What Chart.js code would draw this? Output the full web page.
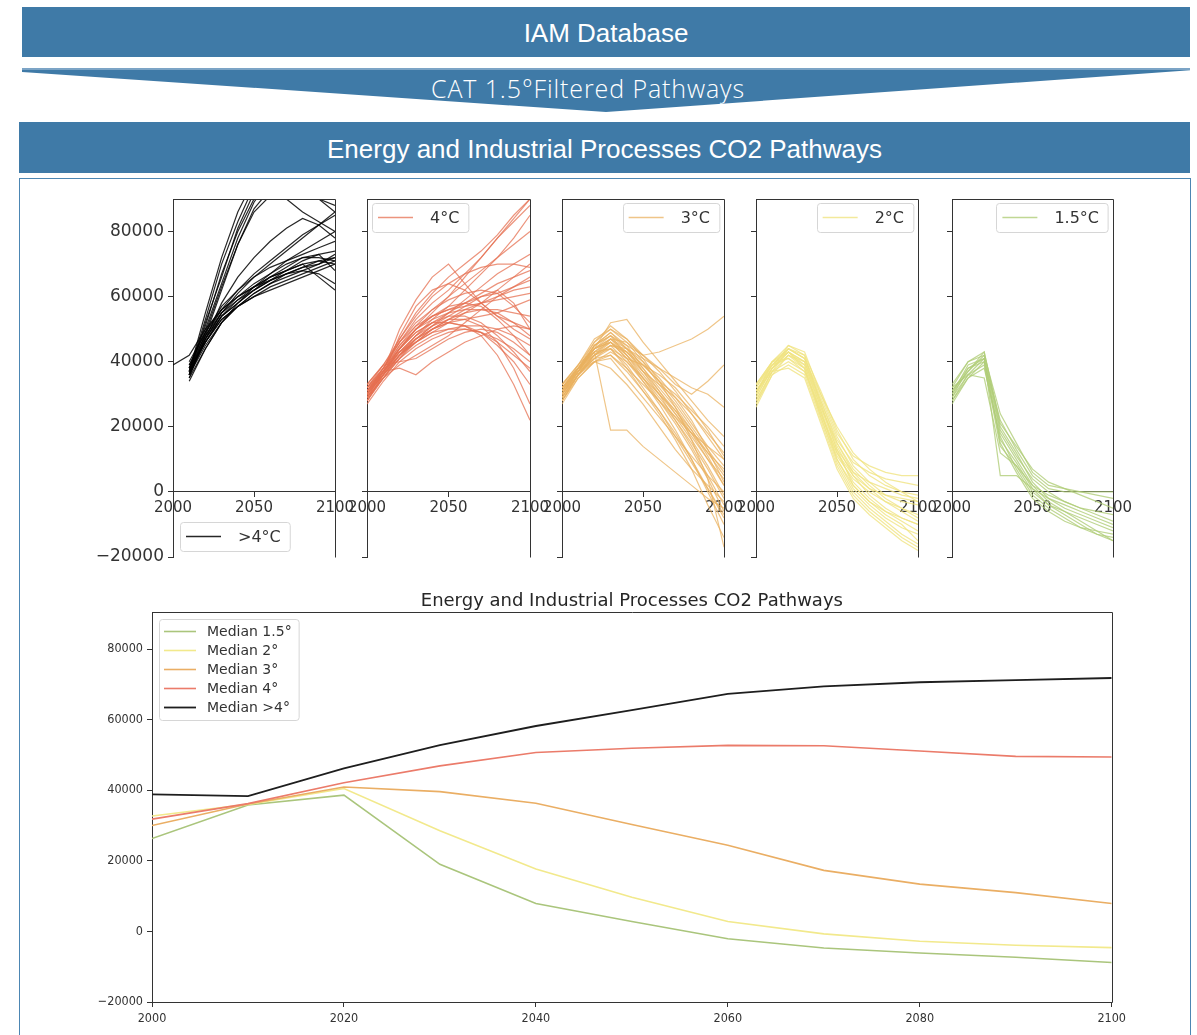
<!DOCTYPE html>
<html>
<head>
<meta charset="utf-8">
<script src="https://cdn.jsdelivr.net/npm/chart.js@4.4.1/dist/chart.umd.min.js"></script>
<style>
  body { margin: 0; width: 1197px; height: 1035px; overflow: hidden; background: #fff; position: relative; font-family: "Liberation Sans", Arial, sans-serif; }
  .bar { position: absolute; background: #3f7aa7; color: #fff; text-align: center; }
  #bar1 { left: 22px; top: 7px; width: 1168px; height: 50px; line-height: 52px; font-size: 26px; }
  #funnel { left: 22px; top: 68px; width: 1132px; padding-right: 36px; height: 44px; clip-path: polygon(0 0, 100% 0, 100% 5%, 50% 100%, 0 9%);
            background: linear-gradient(#7ca4c6 0, #7ca4c6 2px, #3f7aa7 2px); font-family: "Open Sans", sans-serif; font-weight: 300;
            font-size: 25px; letter-spacing: 0.9px; line-height: 40px; }
  #bar3 { left: 19px; top: 122px; width: 1171px; height: 51px; line-height: 54px; font-size: 26px; }
  #box { position: absolute; left: 19px; top: 178px; width: 1170px; height: 880px; border: 1px solid #4c86b3; }
  .wrap { position: absolute; }
</style>
</head>
<body>
<div class="bar" id="bar1">IAM Database</div>
<div class="bar" id="funnel">CAT 1.5°Filtered Pathways</div>
<div class="bar" id="bar3">Energy and Industrial Processes CO2 Pathways</div>
<div id="box"></div>

<div class="wrap" style="left:93px;top:190px"><canvas id="p1" width="267" height="390"></canvas></div>
<div class="wrap" style="left:287px;top:190px"><canvas id="p2" width="268" height="390"></canvas></div>
<div class="wrap" style="left:482px;top:190px"><canvas id="p3" width="267" height="390"></canvas></div>
<div class="wrap" style="left:676px;top:190px"><canvas id="p4" width="267" height="390"></canvas></div>
<div class="wrap" style="left:872px;top:190px"><canvas id="p5" width="266" height="390"></canvas></div>
<div class="wrap" style="left:90px;top:585px"><canvas id="median" width="1040" height="450"></canvas></div>

<script>
// years of each pathway point
const years = [2000, 2010, 2020, 2030, 2040, 2050, 2060, 2070, 2080, 2090, 2100];

// >4°C pathways
const pathsAbove4 = [
  [39000, 42000, 50000, 56000, 60000, 63000, 66000, 68000, 70000, 71000, 72000],
  [null, 36000, 52000, 66000, 81000, 92000, 100000, 105000, 110000, 115000, 120000],
  [null, 37000, 53000, 70000, 83000, 94000, 102000, 108000, 112000, 116000, 120000],
  [null, 38000, 50000, 64000, 78000, 89000, 96000, 101000, 106000, 110000, 114000],
  [null, 37000, 55000, 72000, 86000, 96000, 104000, 110000, 115000, 120000, 125000],
  [null, 38000, 51000, 67000, 80000, 90000, 97000, 95000, 92000, 90000, 88000],
  [null, 36000, 49000, 63000, 76000, 86000, 91000, 93000, 92000, 90000, 86000],
  [null, 35000, 48000, 62000, 76000, 87000, 93000, 90000, 86000, 83000, 80000],
  [null, 36000, 47000, 58000, 66000, 72000, 77000, 81000, 84000, 82000, 78000],
  [null, 37000, 46000, 53000, 57000, 60000, 63000, 65000, 67000, 69000, 71000],
  [null, 38000, 47000, 54000, 58000, 62000, 65000, 67000, 69000, 70000, 72000],
  [null, 36000, 45000, 52000, 57000, 61000, 64000, 66000, 68000, 70000, 73000],
  [null, 39000, 48000, 55000, 60000, 64000, 67000, 70000, 72000, 72000, 71000],
  [null, 35000, 44000, 52000, 58000, 63000, 67000, 71000, 74000, 77000, 80000],
  [null, 37000, 47000, 55000, 61000, 66000, 70000, 74000, 78000, 82000, 86000],
  [null, 38000, 48000, 56000, 62000, 67000, 71000, 75000, 79000, 82000, 85000],
  [null, 36000, 46000, 54000, 59000, 63000, 66000, 68000, 70000, 66000, 62000],
  [null, 40000, 49000, 56000, 60000, 63000, 65000, 67000, 68000, 67000, 64000],
  [null, 37000, 46000, 54000, 58000, 62000, 65000, 68000, 71000, 73000, 74000],
  [null, 38000, 46000, 53000, 57000, 60000, 62000, 64000, 66000, 68000, 70000],
  [null, 34000, 44000, 52000, 57000, 61000, 64000, 67000, 69000, 71000, 70000],
  [null, 36000, 47000, 55000, 59000, 62000, 66000, 69000, 72000, 73000, 68000],
  [null, 39000, 49000, 57000, 62000, 66000, 69000, 71000, 73000, 75000, 77000]
];

// 4°C pathways
const paths4 = [
  [30000, 37000, 44000, 50000, 55000, 60000, 66000, 72000, 78000, 84000, 90000],
  [32000, 38000, 46000, 53000, 58000, 62000, 67000, 72000, 78000, 83000, 88000],
  [29000, 36000, 42000, 48000, 53000, 57000, 62000, 67000, 72000, 78000, 85000],
  [31000, 38000, 45000, 51000, 56000, 60000, 64000, 68000, 72000, 76000, 80000],
  [28000, 35000, 41000, 47000, 51000, 55000, 59000, 63000, 67000, 70000, 73000],
  [33000, 39000, 47000, 54000, 60000, 64000, 67000, 69000, 70000, 70000, 69000],
  [30000, 37000, 43000, 48000, 52000, 55000, 58000, 61000, 64000, 66000, 68000],
  [31000, 36000, 42000, 46000, 50000, 53000, 56000, 58000, 60000, 62000, 63000],
  [29000, 37000, 44000, 50000, 54000, 56000, 57000, 58000, 59000, 60000, 61000],
  [31000, 37000, 50000, 59000, 66000, 70000, 64000, 58000, 54000, 52000, 50000],
  [30000, 36000, 48000, 57000, 62000, 64000, 62000, 58000, 54000, 50000, 47000],
  [28000, 35000, 42000, 47000, 50000, 52000, 51000, 48000, 42000, 33000, 22000],
  [30000, 36000, 43000, 48000, 51000, 53000, 53000, 51000, 46000, 38000, 27000],
  [27000, 34000, 40000, 44000, 47000, 49000, 50000, 49000, 45000, 40000, 33000],
  [32000, 38000, 44000, 49000, 52000, 54000, 54000, 52000, 48000, 43000, 37000],
  [29000, 37000, 43000, 46000, 49000, 50000, 50000, 49000, 47000, 44000, 40000],
  [31000, 37000, 44000, 50000, 54000, 57000, 58000, 57000, 53000, 48000, 42000],
  [30000, 36000, 41000, 45000, 48000, 50000, 51000, 51000, 50000, 48000, 45000],
  [30000, 37000, 38000, 36000, 40000, 43000, 46000, 48000, 50000, 51000, 50000],
  [33000, 39000, 40000, 41000, 44000, 47000, 49000, 50000, 49000, 46000, 42000],
  [28000, 36000, 42000, 47000, 51000, 54000, 57000, 60000, 62000, 58000, 50000],
  [31000, 38000, 46000, 52000, 56000, 59000, 61000, 62000, 61000, 57000, 52000],
  [29000, 35000, 41000, 46000, 50000, 53000, 55000, 56000, 56000, 55000, 54000],
  [32000, 37000, 42000, 46000, 49000, 52000, 55000, 58000, 62000, 66000, 70000],
  [30000, 38000, 47000, 55000, 61000, 66000, 70000, 74000, 79000, 85000, 90000],
  [31000, 37000, 45000, 50000, 53000, 55000, 56000, 56000, 55000, 52000, 48000],
  [28000, 36000, 44000, 49000, 52000, 52000, 51000, 49000, 46000, 42000, 38000],
  [32000, 39000, 46000, 51000, 54000, 56000, 58000, 60000, 61000, 63000, 65000],
  [30000, 37000, 43000, 47000, 50000, 52000, 53000, 54000, 55000, 57000, 59000],
  [29000, 35000, 39000, 42000, 45000, 48000, 52000, 56000, 60000, 63000, 66000]
];

// 3°C pathways
const paths3 = [
  [30000, 37000, 44000, 48000, 45000, 42000, 43000, 45000, 47000, 50000, 54000],
  [32000, 38000, 43000, 47000, 46000, 42000, 38000, 33000, 30000, 34000, 39000],
  [28000, 36000, 41000, 45000, 44000, 41000, 38000, 35000, 32000, 30000, 26000],
  [31000, 37000, 44000, 52000, 53000, 46000, 40000, 34000, 28000, 22000, 17000],
  [29000, 36000, 42000, 47000, 44000, 39000, 34000, 30000, 25000, 20000, 14000],
  [33000, 39000, 46000, 50000, 47000, 42000, 37000, 31000, 24000, 17000, 10000],
  [30000, 38000, 45000, 49000, 45000, 38000, 31000, 24000, 17000, 10000, 4000],
  [27000, 35000, 40000, 43000, 40000, 35000, 30000, 25000, 19000, 12000, 5000],
  [32000, 37000, 43000, 46000, 42000, 36000, 30000, 24000, 18000, 12000, 7000],
  [31000, 38000, 44000, 47000, 43000, 37000, 31000, 25000, 18000, 10000, 2000],
  [29000, 36000, 42000, 45000, 40000, 34000, 28000, 22000, 15000, 7000, -2000],
  [30000, 37000, 45000, 48000, 42000, 35000, 28000, 21000, 13000, 4000, -6000],
  [33000, 38000, 44000, 46000, 41000, 34000, 27000, 19000, 10000, 0, -10000],
  [28000, 36000, 43000, 44000, 38000, 31000, 24000, 16000, 7000, -4000, -14000],
  [31000, 37000, 41000, 42000, 37000, 31000, 25000, 18000, 10000, 1000, -8000],
  [30000, 38000, 43000, 19000, 19000, 14000, 10000, 6000, 2000, -2000, -5000],
  [32000, 38000, 45000, 48000, 44000, 40000, 35000, 29000, 22000, 13000, 3000],
  [29000, 36000, 41000, 44000, 39000, 32000, 25000, 17000, 9000, 1000, -7000],
  [30000, 37000, 42000, 46000, 43000, 38000, 32000, 26000, 19000, 11000, 2000],
  [31000, 38000, 46000, 51000, 47000, 41000, 34000, 26000, 16000, 4000, -17000],
  [28000, 35000, 40000, 41000, 35000, 29000, 23000, 17000, 11000, 5000, 0],
  [33000, 39000, 44000, 47000, 42000, 37000, 33000, 29000, 24000, 18000, 12000],
  [30000, 36000, 42000, 44000, 41000, 39000, 36000, 32000, 26000, 19000, 11000],
  [32000, 37000, 40000, 38000, 33000, 27000, 20000, 13000, 7000, 2000, -3000],
  [31000, 39000, 47000, 50000, 46000, 40000, 33000, 27000, 20000, 13000, 6000],
  [29000, 37000, 44000, 46000, 41000, 35000, 29000, 23000, 16000, 8000, -1000],
  [32000, 38000, 42000, 45000, 43000, 39000, 34000, 28000, 21000, 14000, 8000],
  [30000, 37000, 45000, 49000, 44000, 37000, 30000, 22000, 14000, 5000, -4000],
  [28000, 36000, 40000, 42000, 38000, 33000, 28000, 23000, 18000, 14000, 10000]
];

// 2°C pathways
const paths2 = [
  [27000, 37000, 44000, 41000, 28000, 16000, 9000, 6000, 4000, 3000, 2000],
  [30000, 38000, 45000, 43000, 30000, 18000, 11000, 8000, 6000, 5000, 5000],
  [33000, 40000, 43000, 40000, 26000, 13000, 6000, 3000, 1000, -1000, -2000],
  [28000, 37000, 42000, 38000, 24000, 11000, 4000, 0, -3000, -5000, -7000],
  [31000, 39000, 44000, 42000, 27000, 14000, 5000, -1000, -5000, -8000, -10000],
  [29000, 38000, 43000, 39000, 25000, 10000, 1000, -4000, -8000, -11000, -13000],
  [32000, 40000, 41000, 37000, 23000, 9000, 0, -5000, -9000, -13000, -16000],
  [26000, 36000, 39000, 36000, 22000, 8000, -1000, -6000, -10000, -14000, -17000],
  [30000, 39000, 44000, 41000, 29000, 17000, 8000, 3000, -1000, -3000, -4000],
  [31000, 38000, 42000, 39000, 26000, 15000, 7000, 2000, -2000, -5000, -8000],
  [33000, 40000, 45000, 42000, 31000, 19000, 10000, 5000, 2000, 0, -1000],
  [28000, 37000, 40000, 37000, 25000, 12000, 3000, -2000, -6000, -9000, -12000],
  [29000, 38000, 43000, 40000, 28000, 15000, 6000, 1000, -3000, -6000, -9000],
  [32000, 39000, 41000, 38000, 24000, 12000, 5000, 1000, -1000, -2000, -3000],
  [27000, 36000, 42000, 40000, 27000, 13000, 2000, -3000, -7000, -10000, -15000],
  [30000, 40000, 44000, 41000, 30000, 20000, 12000, 7000, 3000, 0, -3000],
  [31000, 37000, 38000, 35000, 21000, 7000, -2000, -7000, -11000, -15000, -18000],
  [33000, 39000, 43000, 38000, 23000, 10000, 2000, -3000, -6000, -8000, -10000]
];

// 1.5°C pathways
const paths15 = [
  [27000, 35000, 40000, 22000, 13000, 5000, 1000, 0, 0, 0, 0],
  [30000, 37000, 42000, 24000, 15000, 6000, 2000, 1000, 0, -1000, -2000],
  [32000, 40000, 43000, 20000, 12000, 3000, -2000, -5000, -7000, -9000, -11000],
  [28000, 36000, 41000, 18000, 10000, 2000, -3000, -6000, -9000, -12000, -15000],
  [31000, 38000, 40000, 16000, 9000, 1000, -4000, -7000, -10000, -13000, -14000],
  [29000, 36000, 39000, 14000, 8000, 0, -4000, -6000, -8000, -10000, -12000],
  [30000, 39000, 41000, 5000, 5000, 1000, -2000, -4000, -6000, -8000, -10000],
  [33000, 40000, 42000, 19000, 11000, 4000, 0, -3000, -5000, -7000, -9000],
  [28000, 35000, 38000, 17000, 7000, -1000, -5000, -8000, -11000, -13000, -15000],
  [31000, 37000, 43000, 21000, 14000, 7000, 3000, 1000, -1000, -3000, -5000],
  [29000, 38000, 41000, 15000, 6000, -2000, -6000, -9000, -11000, -12000, -13000],
  [32000, 36000, 35000, 12000, 8000, 2000, -1000, -3000, -5000, -6000, -7000]
];

// medians
const median15 = [26300, 35800, 38600, 19000, 7900, 2800, -2100, -4700, -6100, -7300, -8800];
const median2 = [32700, 36000, 40500, 28500, 17700, 9700, 2800, -700, -2800, -3900, -4600];
const median3 = [30000, 36100, 40900, 39600, 36300, 30300, 24400, 17300, 13400, 11000, 7900];
const median4 = [31800, 36200, 42100, 46900, 50700, 51900, 52700, 52600, 51100, 49600, 49400];
const medianAbove4 = [38800, 38350, 46200, 52800, 58200, 62700, 67300, 69400, 70600, 71200, 71800];

const yTicksPanel = [-20000, 0, 20000, 40000, 60000, 80000];
const xTicksPanel = [2000, 2050, 2100];

const axisColor = '#333';

function toPoints(vals) {
  return years.map((y, i) => ({ x: y, y: vals[i] }));
}

// tick text with a real minus sign, as matplotlib prints it
function tickText(v) {
  return String(v).replace('-', '\u2212');
}

// use the condensed DejaVu face for the bottom ticks if it is installed
function hasFont(name) {
  const c = document.createElement('canvas').getContext('2d');
  c.font = '20px monospace';
  const base = c.measureText('80000 mmm').width;
  c.font = '20px "' + name + '", monospace';
  return c.measureText('80000 mmm').width !== base;
}
const condensed = hasFont('DejaVu Sans Condensed');

// top and right spines (and bottom one for the median chart)
const frame = {
  id: 'frame',
  afterDraw(chart, args, opts) {
    const { ctx, chartArea: a } = chart;
    ctx.save();
    ctx.strokeStyle = axisColor;
    ctx.lineWidth = 1;
    ctx.beginPath();
    ctx.moveTo(Math.round(a.left) + 0.5, Math.round(a.top) + 0.5);
    ctx.lineTo(Math.round(a.right) + 0.5, Math.round(a.top) + 0.5);
    ctx.lineTo(Math.round(a.right) + 0.5, Math.round(a.bottom) + 0.5);
    if (opts.full) ctx.lineTo(Math.round(a.left) + 0.5, Math.round(a.bottom) + 0.5);
    ctx.stroke();
    if (opts.title) {
      ctx.fillStyle = '#262626';
      ctx.font = '18px "DejaVu Sans"';
      ctx.textAlign = 'center';
      ctx.textBaseline = 'middle';
      ctx.fillText(opts.title, (a.left + a.right) / 2, a.top - 11);
    }
    ctx.restore();
  }
};

// matplotlib style legend box
const boxLegend = {
  id: 'boxLegend',
  afterDraw(chart, args, opts) {
    if (!opts.items) return;
    const { ctx, chartArea: a } = chart;
    ctx.save();
    ctx.font = opts.size + 'px "DejaVu Sans"';
    let tw = 0;
    opts.items.forEach(it => { tw = Math.max(tw, ctx.measureText(it.text).width); });
    const w = opts.textX + tw + opts.padR;
    const h = opts.rowH * opts.items.length + opts.padV * 2;
    let x, y;
    if (opts.corner === 'tr') { x = a.right - opts.dx - w; y = a.top + opts.dy; }
    else if (opts.corner === 'bl') { x = a.left + opts.dx; y = a.bottom - opts.dy - h; }
    else { x = a.left + opts.dx; y = a.top + opts.dy; }
    ctx.beginPath();
    ctx.roundRect(Math.round(x) + 0.5, Math.round(y) + 0.5, w, h, 3);
    ctx.fillStyle = 'rgba(255,255,255,0.8)';
    ctx.fill();
    ctx.strokeStyle = '#d6d6d6';
    ctx.lineWidth = 1;
    ctx.stroke();
    opts.items.forEach((it, i) => {
      const cy = y + opts.padV + opts.rowH * (i + 0.5);
      ctx.strokeStyle = it.color;
      ctx.lineWidth = it.width || 1.5;
      ctx.beginPath();
      ctx.moveTo(x + opts.lineX0, cy);
      ctx.lineTo(x + opts.lineX1, cy);
      ctx.stroke();
      ctx.fillStyle = '#333';
      ctx.textBaseline = 'middle';
      ctx.fillText(it.text, x + opts.textX, cy + 1);
    });
    ctx.restore();
  }
};

function panel(id, paths, color, label, corner, showLabels) {
  const datasets = paths.map(p => ({
    data: toPoints(p),
    borderColor: color,
    borderWidth: 1.2,
    pointRadius: 0,
    tension: 0,
    fill: false
  }));
  new Chart(document.getElementById(id), {
    type: 'line',
    data: { datasets: datasets },
    plugins: [frame, boxLegend],
    options: {
      responsive: false,
      animation: false,
      events: [],
      layout: { padding: { left: 0, top: 9, right: 25, bottom: 23 } },
      plugins: {
        legend: { display: false },
        tooltip: { enabled: false },
        frame: { full: false },
        boxLegend: {
          corner: corner, dx: corner === 'bl' ? 7 : 5, dy: corner === 'bl' ? 6 : 4,
          size: 16, rowH: 21, padV: 4, lineX0: 6, lineX1: 41, textX: 58, padR: 9,
          items: [{ text: label, color: color, width: 1.4 }]
        }
      },
      scales: {
        x: {
          type: 'linear',
          position: { y: 0 },
          min: 2000,
          max: 2100,
          afterFit: s => { s.height = 0; s.paddingLeft = 0; s.paddingRight = 0; },
          afterBuildTicks: s => { s.ticks = xTicksPanel.map(v => ({ value: v })); },
          grid: { drawOnChartArea: false, drawTicks: true, tickLength: 5, color: axisColor },
          border: { display: true, color: axisColor },
          ticks: { font: { family: 'DejaVu Sans', size: 15 }, color: axisColor, padding: 2, maxRotation: 0, autoSkip: false, callback: v => String(v) }
        },
        y: {
          min: -20000,
          max: 90000,
          afterFit: s => { s.width = 80; s.paddingTop = 0; s.paddingBottom = 0; },
          afterBuildTicks: s => { s.ticks = yTicksPanel.map(v => ({ value: v })); },
          grid: { drawOnChartArea: false, drawTicks: true, tickLength: 5, color: axisColor },
          border: { display: true, color: axisColor },
          ticks: { display: showLabels, font: { family: 'DejaVu Sans', size: 17 }, color: axisColor, padding: 4, callback: tickText }
        }
      }
    }
  });
}

panel('p1', pathsAbove4, 'rgba(0,0,0,0.85)', '>4°C', 'bl', true);
panel('p2', paths4, 'rgba(230,112,82,0.75)', '4°C', 'tl', false);
panel('p3', paths3, 'rgba(234,178,96,0.75)', '3°C', 'tr', false);
panel('p4', paths2, 'rgba(240,228,130,0.8)', '2°C', 'tr', false);
panel('p5', paths15, 'rgba(176,205,120,0.8)', '1.5°C', 'tr', false);

// bottom chart with the medians
const medianLabels = ['Median 1.5°', 'Median 2°', 'Median 3°', 'Median 4°', 'Median >4°'];
const medianColors = ['#aac57c', '#f2e98c', '#eaae64', '#eb7b6a', '#1e1e1e'];
const medianSeries = [median15, median2, median3, median4, medianAbove4];
const xTicksMedian = [2000, 2020, 2040, 2060, 2080, 2100];
const yTicksMedian = [-20000, 0, 20000, 40000, 60000, 80000];
const medFont = condensed ? { family: '"DejaVu Sans Condensed"', size: 12.5 } : { family: 'DejaVu Sans', size: 11.5 };

new Chart(document.getElementById('median'), {
  type: 'line',
  data: {
    datasets: medianSeries.map((s, i) => ({
      label: medianLabels[i],
      data: toPoints(s),
      borderColor: medianColors[i],
      borderWidth: i === 4 ? 1.8 : 1.6,
      pointRadius: 0,
      tension: 0,
      fill: false,
      order: 4 - i
    }))
  },
  plugins: [frame, boxLegend],
  options: {
    responsive: false,
    animation: false,
    events: [],
    layout: { padding: { left: 0, top: 27, right: 17, bottom: 0 } },
    plugins: {
      legend: { display: false },
      tooltip: { enabled: false },
      title: { display: false },
      frame: { full: true, title: 'Energy and Industrial Processes CO2 Pathways' },
      boxLegend: {
        corner: 'tl', dx: 7, dy: 7, size: 14, rowH: 19, padV: 3, lineX0: 5, lineX1: 37, textX: 48, padR: 7,
        items: medianLabels.map((t, i) => ({ text: t, color: medianColors[i], width: i === 4 ? 1.8 : 1.6 }))
      }
    },
    scales: {
      x: {
        type: 'linear',
        min: 2000,
        max: 2100,
        afterFit: s => { s.height = 33; },
        afterBuildTicks: s => { s.ticks = xTicksMedian.map(v => ({ value: v })); },
        grid: { drawOnChartArea: false, drawTicks: true, tickLength: 5, color: axisColor },
        border: { display: true, color: axisColor },
        ticks: { font: medFont, color: axisColor, padding: 4, maxRotation: 0, autoSkip: false, callback: v => String(v) }
      },
      y: {
        min: -20000,
        max: 90500,
        afterFit: s => { s.width = 62; },
        afterBuildTicks: s => { s.ticks = yTicksMedian.map(v => ({ value: v })); },
        grid: { drawOnChartArea: false, drawTicks: true, tickLength: 5, color: axisColor },
        border: { display: true, color: axisColor },
        ticks: { font: medFont, color: axisColor, padding: 4, callback: tickText }
      }
    }
  }
});
</script>
</body>
</html>
